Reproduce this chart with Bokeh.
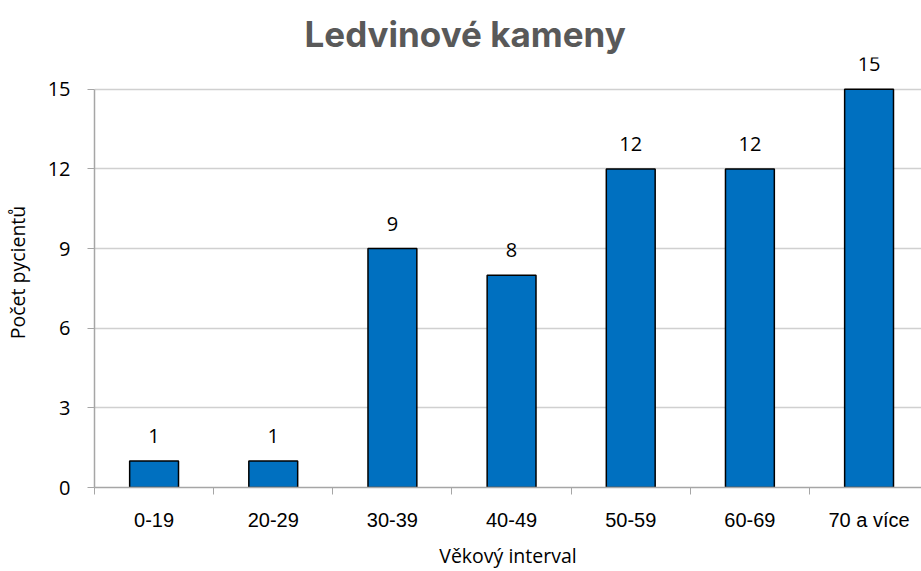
from bokeh.plotting import figure
from bokeh.models import Range1d, FixedTicker, ColumnDataSource, LabelSet
from bokeh.core.properties import value
from bokeh.embed import file_html
from bokeh.resources import INLINE

categories = ["0-19", "20-29", "30-39", "40-49", "50-59", "60-69", "70 a více"]
counts = [1, 1, 9, 8, 12, 12, 15]
y_ticks = [0, 3, 6, 9, 12, 15]
title_text = "Ledvinové kameny"
x_label = "Věkový interval"
y_label = "Počet pycientů"

centers = [i + 0.5 for i in range(len(categories))]
bounds = list(range(len(categories) + 1))

src = ColumnDataSource(dict(x=centers, top=counts, label=[str(c) for c in counts]))

p = figure(width=921, height=571, output_backend="svg", toolbar_location=None,
           x_range=Range1d(0, 6.94), y_range=Range1d(0, 16.2),
           min_border_left=92, min_border_right=0, min_border_bottom=83,
           min_border_top=57)
p.outline_line_color = None
p.background_fill_color = "white"
p.border_fill_color = "white"

p.title.text = title_text
p.title.text_font = "Inter"
p.title.text_font_style = "bold"
p.title.text_font_size = "35px"
p.title.text_color = "#595959"
p.title.align = "left"
p.title.offset = 210
p.title.standoff = 6

p.vbar(x="x", top="top", width=0.41, bottom=0, source=src,
       fill_color="#0070C0", line_color="black", line_width=1.5)
labels = LabelSet(x="x", y="top", text="label", source=src, text_align="center",
                  text_baseline="alphabetic", y_offset=18, text_font=value("Open Sans"),
                  text_font_size="20px", text_color="#000000")
p.add_layout(labels)

xa = p.xaxis[0]
xa.ticker = FixedTicker(ticks=centers, minor_ticks=bounds)
xa.major_label_overrides = {c: lab for c, lab in zip(centers, categories)}
xa.major_tick_out = 0
xa.major_tick_in = 0
xa.minor_tick_out = 7
xa.minor_tick_in = 0
xa.minor_tick_line_color = "#a6a6a6"
xa.axis_line_color = "#a6a6a6"
xa.axis_line_width = 1.5
xa.major_label_text_font = "Liberation Sans"
xa.major_label_text_font_size = "20px"
xa.major_label_text_color = "#000000"
xa.major_label_standoff = 14
xa.axis_label = x_label
xa.axis_label_text_font = "Open Sans"
xa.axis_label_text_font_style = "normal"
xa.axis_label_text_font_size = "19.5px"
xa.axis_label_text_color = "#000000"
xa.axis_label_standoff = 8

ya = p.yaxis[0]
ya.ticker = FixedTicker(ticks=y_ticks)
ya.bounds = (0, 15)
ya.major_tick_out = 7
ya.major_tick_in = 0
ya.minor_tick_out = 0
ya.minor_tick_in = 0
ya.major_tick_line_color = "#a6a6a6"
ya.axis_line_color = "#a6a6a6"
ya.axis_line_width = 1.5
ya.major_label_text_font = "Open Sans"
ya.major_label_text_font_size = "20px"
ya.major_label_text_color = "#000000"
ya.major_label_standoff = 17
ya.axis_label = y_label
ya.axis_label_text_font = "Open Sans"
ya.axis_label_text_font_style = "normal"
ya.axis_label_text_font_size = "19.5px"
ya.axis_label_text_color = "#000000"
ya.axis_label_standoff = 14

p.xgrid.grid_line_color = None
p.ygrid.ticker = FixedTicker(ticks=y_ticks)
p.ygrid.grid_line_color = "#d0d0d0"
p.ygrid.grid_line_width = 1.5

open("out.html", "w").write(file_html(p, INLINE))
